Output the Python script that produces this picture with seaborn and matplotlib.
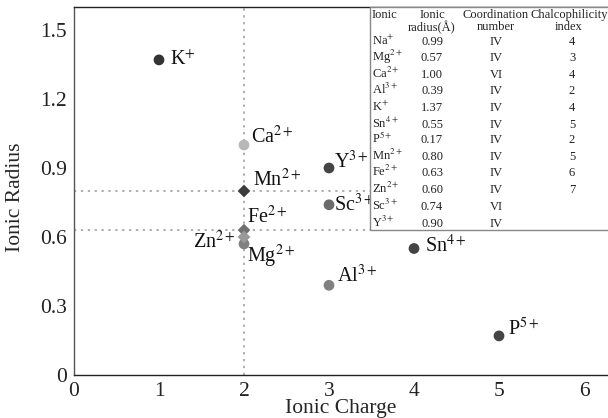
import matplotlib
matplotlib.use("Agg")
import matplotlib.pyplot as plt
from matplotlib.patches import Rectangle
import seaborn as sns
import pandas as pd

# ---- data ----
ions = ["K", "Ca", "Mn", "Fe", "Zn", "Mg", "Y", "Sc", "Al", "Sn", "P"]
ion_labels = [r"K$^{+}$", r"Ca$^{2+}$", r"Mn$^{2+}$", r"Fe$^{2+}$", r"Zn$^{2+}$",
              r"Mg$^{2+}$", r"Y$^{3+}$", r"Sc$^{3+}$", r"Al$^{3+}$", r"Sn$^{4+}$", r"P$^{5+}$"]
charge = [1, 2, 2, 2, 2, 2, 3, 3, 3, 4, 5]
radius = [1.37, 1.00, 0.80, 0.63, 0.60, 0.57, 0.90, 0.74, 0.39, 0.55, 0.17]
shape = ["o", "o", "D", "D", "D", "o", "o", "o", "o", "o", "o"]

ref_lines_y = [0.80, 0.63]
ref_line_x = 2

table_ions = [r"Na$^{+}$", r"Mg$^{2+}$", r"Ca$^{2+}$", r"Al$^{3+}$", r"K$^{+}$", r"Sn$^{4+}$",
              r"P$^{5+}$", r"Mn$^{2+}$", r"Fe$^{2+}$", r"Zn$^{2+}$", r"Sc$^{3+}$", r"Y$^{3+}$"]
table_radius = ["0.99", "0.57", "1.00", "0.39", "1.37", "0.55", "0.17", "0.80", "0.63", "0.60", "0.74", "0.90"]
table_coord = ["IV", "IV", "VI", "IV", "IV", "IV", "IV", "IV", "IV", "IV", "VI", "IV"]
table_chalco = ["4", "3", "4", "2", "4", "5", "2", "5", "6", "7", "", ""]
table_headers = ["Ionic", "Ionic\nradius(Å)", "Coordination\nnumber", "Chalcophilicity\nindex"]

# ---- style ----
colors = {"K": "#333333", "Ca": "#b8b8b8", "Mn": "#3c3c3c", "Fe": "#707070", "Zn": "#999999",
          "Mg": "#808080", "Y": "#444444", "Sc": "#6a6a6a", "Al": "#808080", "Sn": "#444444",
          "P": "#444444"}
# label offsets in pixels (dx, dy, ha)
offsets = {"K": (11, -5, "left"), "Ca": (7, 2, "left"), "Mn": (9, 5, "left"),
           "Fe": (3, 7, "left"), "Zn": (-8, -11, "right"), "Mg": (3, -18, "left"),
           "Y": (5, 0, "left"), "Sc": (5, -6, "left"), "Al": (8, 3, "left"),
           "Sn": (11, -4, "left"), "P": (9, 0, "left")}

sns.set_style("white")
plt.rcParams["font.family"] = ["Liberation Serif", "DejaVu Serif"]
plt.rcParams["mathtext.fontset"] = "stix"

W, H = 608, 418
fig = plt.figure(figsize=(W / 100, H / 100), dpi=100)
ax = fig.add_axes([74 / W, 1 - 375 / H, (W - 74) / W, (375 - 7) / H])

df = pd.DataFrame({"ion": ions, "charge": charge, "radius": radius, "shape": shape})

ax.axvline(ref_line_x, color="#999999", ls=(0, (1.5, 3)), lw=1.1, zorder=1)
for yv in ref_lines_y:
    ax.axhline(yv, color="#999999", ls=(0, (1.5, 3)), lw=1.1, zorder=1)

sns.scatterplot(data=df[df["shape"] == "o"], x="charge", y="radius", hue="ion",
                palette=colors, marker="o", s=60, linewidth=0, legend=False, ax=ax, zorder=3)
sns.scatterplot(data=df[df["shape"] == "D"], x="charge", y="radius", hue="ion",
                palette=colors, marker="D", s=42, linewidth=0, legend=False, ax=ax, zorder=3)

for ion, lab, cx, ry in zip(ions, ion_labels, charge, radius):
    dx, dy, ha = offsets[ion]
    ax.annotate(lab, (cx, ry), xytext=(dx, dy), textcoords="offset pixels",
                ha=ha, va="baseline", fontsize=14.5, color="#111111", zorder=4)

ax.set_xlim(0, (W - 74) / 85)
ax.set_ylim(0, 1.6)
ax.set_xticks([0, 1, 2, 3, 4, 5, 6])
ax.set_xticklabels(["0", "1", "2", "3", "4", "5", "6"])
ax.set_yticks([0, 0.3, 0.6, 0.9, 1.2, 1.5])
ax.set_yticklabels(["0", "0.3", "0.6", "0.9", "1.2", "1.5"])
ax.tick_params(direction="in", length=3, width=0.8, labelsize=15.5, colors="#222222")
ax.tick_params(axis="x", pad=5)
ax.tick_params(axis="y", pad=5)
ax.set_xlabel("Ionic Charge", fontsize=15.5)
ax.set_ylabel("Ionic Radius", fontsize=15.5)
ax.xaxis.set_label_coords((341 - 74) / (W - 74), (375 - 399) / 368)
ax.yaxis.set_label_coords((25 - 74) / (W - 74), (375 - 197) / 368)
for sp in ["left", "bottom", "top"]:
    ax.spines[sp].set_visible(True)
    ax.spines[sp].set_color("#222222")
    ax.spines[sp].set_linewidth(1.0)
ax.spines["left"].set_color("#555555")
ax.spines["right"].set_visible(False)

# ---- inset table ----
def fx(px):
    return px / W

def fy(py):
    return 1 - py / H

fig.patches.append(Rectangle((fx(370), fy(230)), fx(W + 5) - fx(370), fy(7) - fy(230),
                             transform=fig.transFigure, facecolor="white",
                             edgecolor="#888888", lw=1.0, zorder=5))
col_x = [372, 432, 496, 569]
col_ha = ["left", "center", "center", "center"]
tfs = 9.0
for hx, hdr, ha in zip(col_x, table_headers, col_ha):
    fig.text(fx(hx), fy(9), hdr, ha=ha, va="top", fontsize=tfs,
             linespacing=1.0, color="#222222", zorder=6)
row_y = [45, 61, 78, 94, 111, 128, 143, 160, 176, 193, 210, 227]
for ry, a, b, c, d in zip(row_y, table_ions, table_radius, table_coord, table_chalco):
    fig.text(fx(col_x[0]), fy(ry), a, ha="left", va="baseline", fontsize=tfs, color="#222222", zorder=6)
    fig.text(fx(col_x[1]), fy(ry), b, ha="center", va="baseline", fontsize=tfs, color="#222222", zorder=6)
    fig.text(fx(col_x[2]), fy(ry), c, ha="center", va="baseline", fontsize=tfs, color="#222222", zorder=6)
    if d:
        fig.text(fx(col_x[3] + 3), fy(ry), d, ha="center", va="baseline", fontsize=tfs, color="#222222", zorder=6)

fig.savefig("out.png", dpi=100, facecolor="white")
